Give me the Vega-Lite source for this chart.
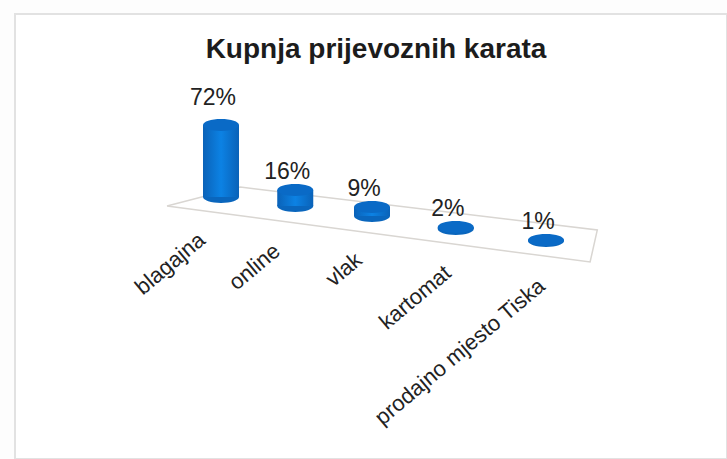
{"$schema":"https://vega.github.io/schema/vega-lite/v6.json","autosize":"none","padding":{"left":15,"top":14,"right":0,"bottom":0},"width":712,"height":445,"background":"#fdfdfd","view":{"stroke":"#e2e2e2","strokeWidth":2,"fill":"#ffffff"},"title":{"text":"Kupnja prijevoznih karata","font":"Liberation Sans","fontWeight":"bold","fontSize":28,"color":"#1c1c1c","anchor":"middle","frame":"group","offset":0,"dx":5,"dy":50},"datasets":{"udjeli":[{"redni":0,"kategorija":"blagajna","udio":72,"oznaka":"72%"},{"redni":1,"kategorija":"online","udio":16,"oznaka":"16%"},{"redni":2,"kategorija":"vlak","udio":9,"oznaka":"9%"},{"redni":3,"kategorija":"kartomat","udio":2,"oznaka":"2%"},{"redni":4,"kategorija":"prodajno mjesto Tiska","udio":1,"oznaka":"1%"}],"pod":[{"red":1,"a":-0.73,"b":-9},{"red":2,"a":0.26,"b":10},{"red":3,"a":4.57,"b":-33},{"red":4,"a":4.49,"b":-65},{"red":5,"a":-0.73,"b":-9}]},"resolve":{"scale":{"x":"independent","xOffset":"independent","yOffset":"independent"}},"layer":[{"data":{"name":"pod"},"mark":{"type":"line","stroke":"#d9d6d2","strokeWidth":1.5},"encoding":{"x":{"field":"a","type":"quantitative","axis":null,"scale":{"domain":[0,1,2,3,4],"range":[206,280,357,441,531],"nice":false,"zero":false}},"y":{"field":"b","type":"quantitative","axis":null,"scale":{"domain":[-262,183],"nice":false,"zero":false}},"order":{"field":"red","type":"ordinal"}}},{"data":{"name":"udjeli"},"mark":{"type":"point","filled":true,"opacity":1,"size":1296,"shape":"M-1,0a1,0.33 0 1,0 2,0a1,0.33 0 1,0 -2,0z","fill":"#0a66bd"},"encoding":{"x":{"field":"kategorija","type":"nominal","sort":null,"axis":null,"scale":{"type":"point","padding":0,"range":[206,531]}},"xOffset":{"field":"redni","type":"quantitative","scale":{"domain":[0,1,2,3,4],"range":[0,-7,-11.5,-9,0],"zero":false,"nice":false}},"y":{"datum":0,"type":"quantitative"},"yOffset":{"field":"redni","type":"quantitative","scale":{"domain":[0,1,2,3,4],"range":[0,9,19,32,44],"zero":false,"nice":false}}}},{"data":{"name":"udjeli"},"mark":{"type":"bar","width":36,"yOffset":{"expr":"[0,9,19,32,44][datum.redni]"},"y2Offset":{"expr":"[0,9,19,32,44][datum.redni]"},"fill":{"gradient":"linear","x1":0,"x2":1,"y1":0,"y2":0,"stops":[{"offset":0,"color":"#0a62b8"},{"offset":0.5,"color":"#0c82e4"},{"offset":1,"color":"#0a62b8"}]}},"encoding":{"x":{"field":"kategorija","type":"nominal","sort":null,"axis":null,"scale":{"type":"point","padding":0,"range":[206,531]}},"xOffset":{"field":"redni","type":"quantitative","scale":{"domain":[0,1,2,3,4],"range":[0,-7,-11.5,-9,0],"zero":false,"nice":false}},"y":{"field":"udio","type":"quantitative"}}},{"data":{"name":"udjeli"},"mark":{"type":"point","filled":true,"opacity":1,"size":1296,"yOffset":{"expr":"[0,9,19,32,44][datum.redni]"},"shape":"M-1,0a1,0.33 0 1,0 2,0a1,0.33 0 1,0 -2,0z","fill":"#0a6ac6"},"encoding":{"x":{"field":"kategorija","type":"nominal","sort":null,"axis":null,"scale":{"type":"point","padding":0,"range":[206,531]}},"xOffset":{"field":"redni","type":"quantitative","scale":{"domain":[0,1,2,3,4],"range":[0,-7,-11.5,-9,0],"zero":false,"nice":false}},"y":{"field":"udio","type":"quantitative"}}},{"data":{"name":"udjeli"},"mark":{"type":"text","font":"Liberation Sans","fontSize":23,"color":"#222222","dx":-8,"dy":-18,"yOffset":{"expr":"[-9,9,19,32,44][datum.redni]"}},"encoding":{"x":{"field":"kategorija","type":"nominal","sort":null,"axis":null,"scale":{"type":"point","padding":0,"range":[206,531]}},"xOffset":{"field":"redni","type":"quantitative","scale":{"domain":[0,1,2,3,4],"range":[0,-7,-11.5,-9,0],"zero":false,"nice":false}},"y":{"field":"udio","type":"quantitative"},"text":{"field":"oznaka"}}},{"data":{"name":"udjeli"},"mark":{"type":"text","font":"Liberation Sans","fontSize":22,"color":"#222222","align":"right","baseline":"middle","angle":320},"encoding":{"x":{"field":"kategorija","type":"nominal","sort":null,"axis":null,"scale":{"type":"point","padding":0,"range":[187,527]}},"xOffset":{"field":"redni","type":"quantitative","scale":{"domain":[0,1,2,3,4],"range":[0,-10,-13,-9,0],"zero":false,"nice":false}},"y":{"datum":0,"type":"quantitative"},"yOffset":{"field":"redni","type":"quantitative","scale":{"domain":[0,1,2,3,4],"range":[40,51,60,73,86],"zero":false,"nice":false}},"text":{"field":"kategorija"}}}]}
